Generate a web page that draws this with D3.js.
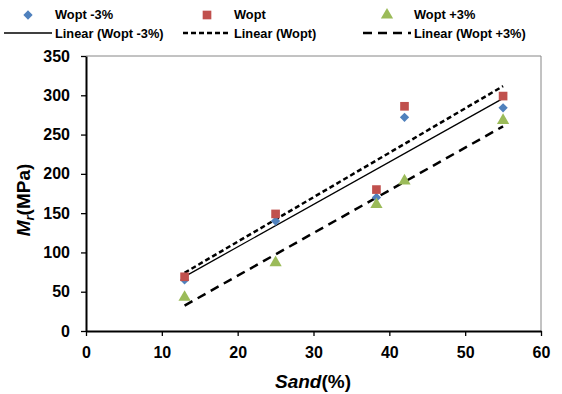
<!DOCTYPE html>
<html>
<head>
<meta charset="utf-8">
<script src="https://cdn.jsdelivr.net/npm/d3@7"></script>
<style>
  body { margin: 0; background: #fff; }
  svg { display: block; font-family: "Liberation Sans", Arial, sans-serif; }
</style>
</head>
<body>
<div id="chart"></div>
<script>
const sand = [13, 25, 38.3, 42, 55];
const woptMinus3 = [65, 140, 170, 272, 284];
const wopt = [69, 149, 180, 286, 299];
const woptPlus3 = [43, 87, 161, 191, 268];
const xTicks = [0, 10, 20, 30, 40, 50, 60];
const yTicks = [0, 50, 100, 150, 200, 250, 300, 350];

const width = 562;
const height = 394;
const margin = { top: 56, right: 21, bottom: 63, left: 86 };

const series = [
  { name: 'Wopt -3%', values: woptMinus3, color: '#4f81bd', shape: d3.symbolDiamond2, size: 55, dash: null },
  { name: 'Wopt', values: wopt, color: '#c0504d', shape: d3.symbolSquare, size: 75, dash: '5,3' },
  { name: 'Wopt +3%', values: woptPlus3, color: '#9bbb59', shape: d3.symbolTriangle, size: 65, dash: '9,6' }
];

const svg = d3.select('#chart')
  .append('svg')
  .attr('width', width)
  .attr('height', height);

const x = d3.scaleLinear()
  .domain([0, 60])
  .range([margin.left, width - margin.right]);

const y = d3.scaleLinear()
  .domain([0, 350])
  .range([height - margin.bottom, margin.top]);

// plot area frame (top / right)
svg.append('path')
  .attr('d', `M${x(0)},${y(350)}H${x(60)}V${y(0)}`)
  .attr('fill', 'none')
  .attr('stroke', '#868686')
  .attr('stroke-width', 1);

function linearFit(xs, ys) {
  const mx = d3.mean(xs), my = d3.mean(ys);
  let sxy = 0, sxx = 0;
  xs.forEach((v, i) => { sxy += (v - mx) * (ys[i] - my); sxx += (v - mx) * (v - mx); });
  const slope = sxy / sxx;
  return v => my + slope * (v - mx);
}

// trendlines
series.forEach(s => {
  const f = linearFit(sand, s.values);
  const x0 = d3.min(sand), x1 = d3.max(sand);
  svg.append('line')
    .attr('x1', x(x0)).attr('y1', y(f(x0)))
    .attr('x2', x(x1)).attr('y2', y(f(x1)))
    .attr('stroke', '#000')
    .attr('stroke-width', s.dash ? 2.5 : 1.3)
    .attr('stroke-dasharray', s.dash);
});

// markers
series.forEach(s => {
  svg.append('g')
    .selectAll('path')
    .data(s.values)
    .join('path')
    .attr('transform', (d, i) => `translate(${x(sand[i])},${y(d)})`)
    .attr('d', d3.symbol().type(s.shape).size(s.size))
    .attr('fill', s.color);
});

// axes
const xAxis = svg.append('g')
  .attr('transform', `translate(0,${y(0)})`)
  .call(d3.axisBottom(x).tickValues(xTicks).tickSize(5).tickSizeOuter(0));
const yAxis = svg.append('g')
  .attr('transform', `translate(${x(0)},0)`)
  .call(d3.axisLeft(y).tickValues(yTicks).tickSize(5).tickSizeOuter(0));

[xAxis, yAxis].forEach(g => {
  g.select('.domain').attr('stroke', '#000').attr('stroke-width', 2);
  g.selectAll('.tick line').attr('stroke', '#000').attr('stroke-width', 1.3);
  g.selectAll('.tick text')
    .attr('font-family', '"Liberation Sans", Arial, sans-serif')
    .attr('font-size', 16)
    .attr('font-weight', 'bold')
    .attr('fill', '#000');
});
xAxis.selectAll('.tick text').attr('y', 27).attr('dy', 0);
yAxis.selectAll('.tick text').attr('x', -16);

// axis titles
const xt = svg.append('text')
  .attr('x', 313).attr('y', 388)
  .attr('text-anchor', 'middle')
  .attr('font-size', 19).attr('font-weight', 'bold');
xt.append('tspan').attr('font-style', 'italic').text('Sand');
xt.append('tspan').text('(%)');

const yt = svg.append('text')
  .attr('transform', 'translate(30,200) rotate(-90)')
  .attr('text-anchor', 'middle')
  .attr('font-size', 19).attr('font-weight', 'bold');
yt.append('tspan').attr('font-style', 'italic').text('M');
yt.append('tspan').attr('font-style', 'italic').attr('font-size', 13).attr('dy', 4).text('r');
yt.append('tspan').attr('dy', -4).text('(MPa)');

// legend
const legendX = [55, 234, 414];
const legend = svg.append('g')
  .attr('font-size', 12.8).attr('font-weight', 'bold');

series.forEach((s, i) => {
  legend.append('path')
    .attr('transform', `translate(${legendX[i] - 27},15)`)
    .attr('d', d3.symbol().type(s.shape).size(s.size))
    .attr('fill', s.color);
  legend.append('text')
    .attr('x', legendX[i]).attr('y', 19)
    .text(s.name);
  legend.append('line')
    .attr('x1', legendX[i] - 51).attr('x2', legendX[i] - 3)
    .attr('y1', 33).attr('y2', 33)
    .attr('stroke', '#000')
    .attr('stroke-width', s.dash ? 2.5 : 1.3)
    .attr('stroke-dasharray', s.dash);
  legend.append('text')
    .attr('x', legendX[i]).attr('y', 37.5)
    .text('Linear (' + s.name + ')');
});
</script>
</body>
</html>
